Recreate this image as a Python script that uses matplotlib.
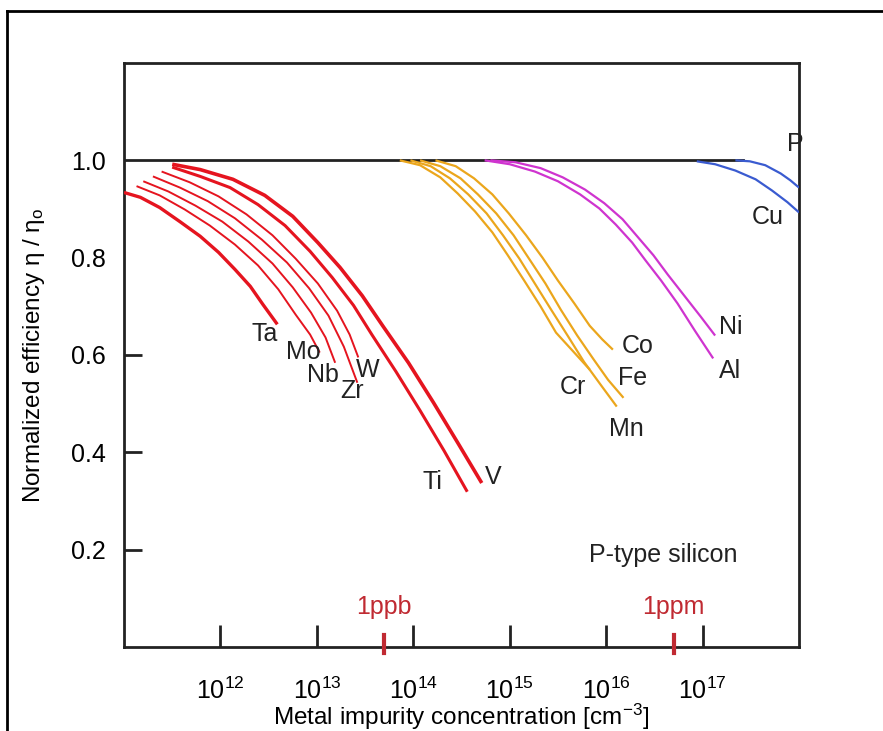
import numpy as np
import matplotlib
matplotlib.use("Agg")
import matplotlib.pyplot as plt
from matplotlib.lines import Line2D

plt.rcParams['font.family'] = ['Liberation Sans', 'DejaVu Sans']
plt.rcParams['mathtext.fontset'] = 'custom'
plt.rcParams['mathtext.rm'] = 'Liberation Sans'
plt.rcParams['mathtext.it'] = 'Liberation Sans:italic'

# log10 of impurity concentration [cm^-3] and normalized efficiency per element
ta_logc = [11.00, 11.17, 11.37, 11.58, 11.79, 11.98, 12.15, 12.31, 12.44, 12.59]
ta_eff = [0.934, 0.924, 0.903, 0.874, 0.844, 0.811, 0.776, 0.741, 0.704, 0.663]
mo_logc = [11.13, 11.37, 11.63, 11.89, 12.15, 12.39, 12.60, 12.78, 12.93, 13.03]
mo_eff = [0.947, 0.928, 0.899, 0.866, 0.827, 0.784, 0.735, 0.683, 0.642, 0.605]
nb_logc = [11.20, 11.46, 11.74, 12.02, 12.29, 12.54, 12.75, 12.94, 13.09, 13.19]
nb_eff = [0.957, 0.936, 0.907, 0.874, 0.833, 0.788, 0.739, 0.687, 0.636, 0.584]
zr_logc = [11.30, 11.58, 11.87, 12.15, 12.43, 12.69, 12.92, 13.12, 13.28, 13.42]
zr_eff = [0.967, 0.944, 0.916, 0.881, 0.837, 0.790, 0.737, 0.681, 0.617, 0.543]
w_logc = [11.39, 11.68, 11.98, 12.27, 12.54, 12.78, 13.01, 13.21, 13.34, 13.43]
w_eff = [0.977, 0.955, 0.926, 0.889, 0.846, 0.798, 0.747, 0.691, 0.642, 0.595]
ti_logc = [11.50, 11.79, 12.10, 12.39, 12.67, 12.93, 13.16, 13.38, 13.57, 13.82, 14.07,
           14.32, 14.56]
ti_eff = [0.986, 0.967, 0.944, 0.909, 0.866, 0.813, 0.759, 0.702, 0.642, 0.566, 0.486,
          0.403, 0.319]
v_logc = [11.50, 11.79, 12.13, 12.46, 12.75, 13.01, 13.24, 13.47, 13.69, 13.95, 14.21,
          14.46, 14.71]
v_eff = [0.992, 0.981, 0.961, 0.928, 0.885, 0.831, 0.780, 0.722, 0.658, 0.584, 0.502,
         0.420, 0.337]

cr_logc = [13.86, 14.07, 14.28, 14.46, 14.64, 14.82, 14.98, 15.15, 15.32, 15.48, 15.66, 15.83]
cr_eff = [1.000, 0.990, 0.965, 0.932, 0.895, 0.852, 0.805, 0.753, 0.700, 0.646, 0.607, 0.570]
mn_logc = [13.97, 14.18, 14.38, 14.57, 14.76, 14.93, 15.10, 15.26, 15.43, 15.60, 15.77,
           15.95, 16.11]
mn_eff = [1.000, 0.988, 0.963, 0.930, 0.891, 0.846, 0.798, 0.747, 0.693, 0.640, 0.586,
          0.537, 0.494]
fe_logc = [14.07, 14.28, 14.49, 14.67, 14.86, 15.04, 15.20, 15.37, 15.53, 15.70, 15.87,
           16.02, 16.18]
fe_eff = [1.000, 0.988, 0.963, 0.930, 0.891, 0.846, 0.798, 0.747, 0.693, 0.640, 0.591,
          0.549, 0.512]
co_logc = [14.23, 14.44, 14.63, 14.82, 14.99, 15.17, 15.34, 15.50, 15.67, 15.83, 15.96, 16.07]
co_eff = [1.000, 0.988, 0.963, 0.930, 0.891, 0.846, 0.800, 0.753, 0.706, 0.660, 0.632, 0.611]

ni_logc = [14.80, 15.06, 15.32, 15.55, 15.78, 15.98, 16.17, 16.33, 16.49, 16.64, 16.81,
           16.98, 17.13]
ni_eff = [1.000, 0.996, 0.984, 0.965, 0.940, 0.912, 0.879, 0.842, 0.805, 0.765, 0.722,
          0.679, 0.640]
al_logc = [14.74, 15.00, 15.26, 15.50, 15.73, 15.93, 16.10, 16.27, 16.41, 16.57, 16.74,
           16.92, 17.11]
al_eff = [1.000, 0.992, 0.977, 0.957, 0.930, 0.901, 0.868, 0.831, 0.794, 0.753, 0.706,
          0.650, 0.593]

p_logc = [17.34, 17.49, 17.65, 17.81, 17.91, 18.00]
p_eff = [1.000, 0.998, 0.990, 0.973, 0.959, 0.944]
cu_logc = [16.94, 17.13, 17.34, 17.55, 17.72, 17.88, 18.00]
cu_eff = [0.998, 0.992, 0.979, 0.961, 0.938, 0.914, 0.893]

x_tick_exponents = [12, 13, 14, 15, 16, 17]
y_ticks = [0.2, 0.4, 0.6, 0.8, 1.0]
ppb_conc = 5e13
ppm_conc = 5e16

RED = '#e5141f'
ORANGE = '#eba61c'
MAGENTA = '#cf34cf'
BLUE = '#3a5bd0'
LABEL_RED = '#c02a32'
INK = '#222222'

fig = plt.figure(figsize=(8.83, 7.31), dpi=100)
ax = fig.add_axes([124 / 883, 1 - 647 / 731, 675 / 883, 584 / 731])
ax.set_xscale('log')
ax.set_xlim(1e11, 1e18)
ax.set_ylim(0, 1.2)

# reference line at unit efficiency
ax.plot([1e11, 10 ** 17.42], [1.0, 1.0], color=INK, lw=2.0, zorder=2)

def curve(logc, eff, color, lw):
    ax.plot(10 ** np.asarray(logc), eff, color=color, lw=lw,
            solid_capstyle='butt', solid_joinstyle='round', zorder=3)

curve(ta_logc, ta_eff, RED, 2.4)
curve(mo_logc, mo_eff, RED, 1.4)
curve(nb_logc, nb_eff, RED, 1.4)
curve(zr_logc, zr_eff, RED, 1.4)
curve(w_logc, w_eff, RED, 1.4)
curve(ti_logc, ti_eff, RED, 2.2)
curve(v_logc, v_eff, RED, 2.6)

curve(cr_logc, cr_eff, ORANGE, 1.6)
curve(mn_logc, mn_eff, ORANGE, 1.6)
curve(fe_logc, fe_eff, ORANGE, 1.6)
curve(co_logc, co_eff, ORANGE, 1.6)

curve(ni_logc, ni_eff, MAGENTA, 1.6)
curve(al_logc, al_eff, MAGENTA, 1.6)

curve(p_logc, p_eff, BLUE, 1.6)
curve(cu_logc, cu_eff, BLUE, 1.6)

fs = 18
labels = [
    ('Ta', 10 ** 12.46, 0.644), ('Mo', 10 ** 12.86, 0.607), ('Nb', 10 ** 13.06, 0.558),
    ('W', 10 ** 13.53, 0.570), ('Zr', 10 ** 13.37, 0.525),
    ('Ti', 10 ** 14.20, 0.340), ('V', 10 ** 14.83, 0.350),
    ('Cr', 10 ** 15.66, 0.535), ('Fe', 10 ** 16.27, 0.553), ('Co', 10 ** 16.33, 0.619),
    ('Mn', 10 ** 16.21, 0.447),
    ('Ni', 10 ** 17.29, 0.658), ('Al', 10 ** 17.28, 0.568),
    ('P', 10 ** 17.96, 1.033), ('Cu', 10 ** 17.68, 0.883),
]
for name, xv, yv in labels:
    ax.text(xv, yv, name, fontsize=fs, ha='center', va='center', color=INK)

ax.text(10 ** 16.59, 0.189, 'P-type silicon', fontsize=fs, ha='center', va='center',
        color=INK)
ax.text(ppb_conc, 0.082, '1ppb', fontsize=fs, ha='center', va='center', color=LABEL_RED)
ax.text(ppm_conc, 0.082, '1ppm', fontsize=fs, ha='center', va='center', color=LABEL_RED)

# red concentration markers on the x axis
for c in (ppb_conc, ppm_conc):
    ax.plot([c, c], [-0.012, 0.025], color=LABEL_RED, lw=3, clip_on=False, zorder=5)

# axes styling
for s in ax.spines.values():
    s.set_linewidth(2.0)
    s.set_color(INK)

ax.set_xticks([10.0 ** e for e in x_tick_exponents])
ax.set_xticklabels([rf'$\mathregular{{10^{{{e}}}}}$' for e in x_tick_exponents])
ax.xaxis.set_minor_locator(matplotlib.ticker.NullLocator())
ax.tick_params(axis='x', direction='in', length=16, width=2, color=INK,
               labelsize=fs, pad=22)
ax.xaxis.get_major_ticks()[1].tick1line.set_color('#9a9a9a')

ax.set_yticks(y_ticks)
ax.set_yticklabels([f'{v:.1f}' for v in y_ticks])
ax.tick_params(axis='y', direction='in', length=13, width=2, color=INK,
               labelsize=fs, pad=13)
yt = ax.yaxis.get_major_ticks()
yt[3].tick1line.set_visible(False)
yt[4].tick1line.set_visible(False)
ax.tick_params(top=False, right=False)

ax.set_xlabel('Metal impurity concentration [cm$^{\\mathregular{-3}}$]', fontsize=17.5,
              va='center')
ax.xaxis.set_label_coords(0.5, (647 - 716.5) / 584)
ax.set_ylabel(r'Normalized efficiency η / η$_\mathregular{o}$', fontsize=17.5, va='center')
ax.yaxis.set_label_coords((34 - 124) / 675, 0.5)

# frame around the figure
fx = 7 / 883
fy = 1 - 11 / 731
fig.add_artist(Line2D([fx, fx], [0, fy], transform=fig.transFigure, color='black', lw=2))
fig.add_artist(Line2D([fx, 1], [fy, fy], transform=fig.transFigure, color='black', lw=2))

fig.savefig('out.png', dpi=100)
